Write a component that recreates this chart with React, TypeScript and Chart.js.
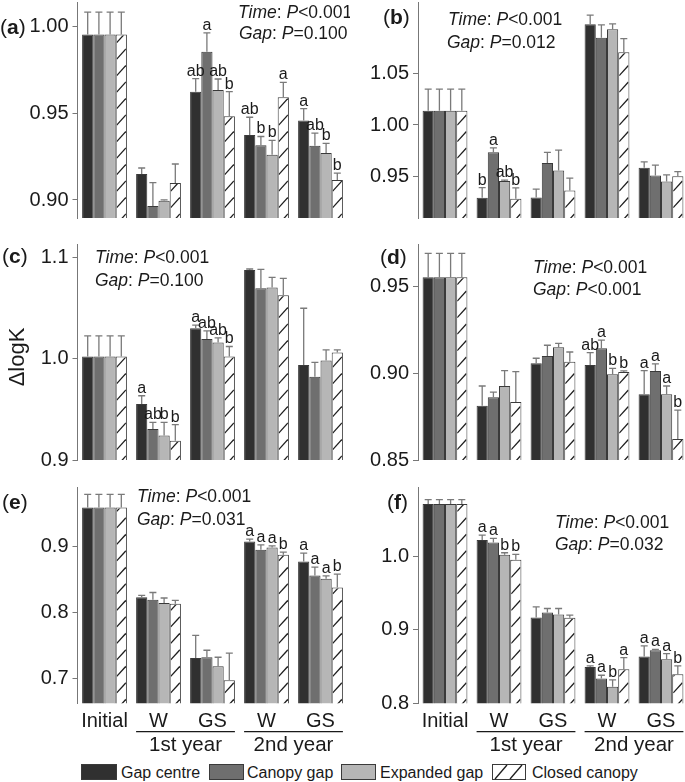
import React, { useEffect, useRef } from "react";
import { Chart, registerables } from "chart.js";
Chart.register(...registerables);

const FONT = "'Liberation Sans', Arial, Helvetica, sans-serif";
const TEXT = "#1a1a1a";

const categories = ["Initial", "W", "GS", "W", "GS"];
const seriesNames = ["Gap centre", "Canopy gap", "Expanded gap", "Closed canopy"];
const yearLabels = ["1st year", "2nd year"];
const yTitle = "ΔlogK";

// ---- Panel (a)
const aMeans = [
  [0.9956, 0.915, 0.9626, 0.9376, 0.9459],
  [0.9956, 0.8965, 0.9856, 0.9317, 0.9313],
  [0.9956, 0.8996, 0.9635, 0.9261, 0.9271],
  [0.9956, 0.9098, 0.9484, 0.9593, 0.9115],
];
const aErrors = [
  [0.013, 0.0035, 0.0075, 0.0102, 0.0069],
  [0.013, 0.0135, 0.011, 0.005, 0.0073],
  [0.013, 0.0005, 0.0064, 0.0083, 0.0056],
  [0.013, 0.011, 0.0142, 0.0087, 0.004],
];
const aLetters = [
  ["", "", "ab", "ab", "a"],
  ["", "", "a", "b", "ab"],
  ["", "", "ab", "b", "b"],
  ["", "", "b", "a", "b"],
];
const aTicks = [0.9, 0.95, 1.0];
const aTickLabels = ["0.90", "0.95", "1.00"];
const aRange = [0.8896, 1.0144];
const aStats = ["<0.001", "=0.100"];

// ---- Panel (b)
const bMeans = [
  [1.0139, 0.9294, 0.9297, 1.0977, 0.9584],
  [1.0139, 0.9735, 0.9632, 1.0848, 0.951],
  [1.0139, 0.9455, 0.9558, 1.0929, 0.9452],
  [1.0139, 0.9284, 0.9365, 1.0706, 0.9503],
];
const bErrors = [
  [0.021, 0.0097, 0.008, 0.009, 0.0058],
  [0.021, 0.0042, 0.0103, 0.0123, 0.01],
  [0.021, 0.001, 0.0197, 0.0052, 0.0064],
  [0.021, 0.0106, 0.0119, 0.0133, 0.0045],
];
const bLetters = [
  ["", "b", "", "", ""],
  ["", "a", "", "", ""],
  ["", "ab", "", "", ""],
  ["", "b", "", "", ""],
];
const bTicks = [0.95, 1.0, 1.05];
const bTickLabels = ["0.95", "1.00", "1.05"];
const bRange = [0.9097, 1.1194];
const bStats = ["<0.001", "=0.012"];

// ---- Panel (c)
const cMeans = [
  [1.0023, 0.9553, 1.0303, 1.0878, 0.9938],
  [1.0023, 0.9306, 1.0197, 1.0697, 0.9822],
  [1.0023, 0.9243, 1.0161, 1.0704, 0.9984],
  [1.0023, 0.9191, 1.0023, 1.0628, 1.0063],
];
const cErrors = [
  [0.0204, 0.0082, 0.003, 0.001, 0.0562],
  [0.0204, 0.0066, 0.0079, 0.0188, 0.0142],
  [0.0204, 0.0129, 0.0046, 0.0102, 0.0105],
  [0.0204, 0.0158, 0.0099, 0.0168, 0.0026],
];
const cLetters = [
  ["", "a", "a", "", ""],
  ["", "ab", "ab", "", ""],
  ["", "b", "ab", "", ""],
  ["", "b", "b", "", ""],
];
const cTicks = [0.9, 1.0, 1.1];
const cTickLabels = ["0.9", "1.0", "1.1"];
const cRange = [0.9, 1.1135];
const cStats = ["<0.001", "=0.100"];

// ---- Panel (d)
const dMeans = [
  [0.9554, 0.8813, 0.9058, 0.9048, 0.8879],
  [0.9554, 0.8862, 0.91, 0.9144, 0.9013],
  [0.9554, 0.8927, 0.915, 0.8994, 0.8879],
  [0.9554, 0.8835, 0.9067, 0.9008, 0.8621],
];
const dErrors = [
  [0.0138, 0.0114, 0.0029, 0.0071, 0.0136],
  [0.0138, 0.003, 0.0062, 0.0048, 0.0041],
  [0.0138, 0.0088, 0.0023, 0.0035, 0.0048],
  [0.0138, 0.0175, 0.0056, 0.0006, 0.0167],
];
const dLetters = [
  ["", "", "", "ab", "a"],
  ["", "", "", "a", "a"],
  ["", "", "", "b", "a"],
  ["", "", "", "b", "b"],
];
const dTicks = [0.85, 0.9, 0.95];
const dTickLabels = ["0.85", "0.90", "0.95"];
const dRange = [0.85, 0.9746];
const dStats = ["<0.001", "<0.001"];

// ---- Panel (e)
const eMeans = [
  [0.9587, 0.8227, 0.731, 0.9073, 0.8771],
  [0.9587, 0.8191, 0.732, 0.8947, 0.8559],
  [0.9587, 0.8141, 0.7184, 0.8982, 0.8509],
  [0.9587, 0.8131, 0.6972, 0.8872, 0.8378],
];
const eErrors = [
  [0.02, 0.003, 0.034, 0.0035, 0.0126],
  [0.02, 0.011, 0.0106, 0.0076, 0.0126],
  [0.02, 0.0076, 0.0136, 0.0026, 0.0045],
  [0.02, 0.005, 0.041, 0.004, 0.0201],
];
const eLetters = [
  ["", "", "", "a", "a"],
  ["", "", "", "a", "a"],
  ["", "", "", "a", "a"],
  ["", "", "", "b", "b"],
];
const eTicks = [0.7, 0.8, 0.9];
const eTickLabels = ["0.7", "0.8", "0.9"];
const eRange = [0.6622, 0.9899];
const eStats = ["<0.001", "=0.031"];

// ---- Panel (f)
const fMeans = [
  [1.0714, 1.0223, 0.9168, 0.8495, 0.8636],
  [1.0714, 1.0191, 0.9236, 0.8336, 0.8723],
  [1.0714, 1.0023, 0.9209, 0.8227, 0.86],
  [1.0714, 0.9955, 0.9164, 0.8464, 0.8395],
];
const fErrors = [
  [0.006, 0.0068, 0.0146, 0.0014, 0.0146],
  [0.006, 0.0054, 0.0055, 0.0046, 0.001],
  [0.006, 0.0027, 0.0082, 0.0091, 0.0077],
  [0.006, 0.0072, 0.0036, 0.0159, 0.0114],
];
const fLetters = [
  ["", "a", "", "a", "a"],
  ["", "a", "", "a", "a"],
  ["", "b", "", "b", "a"],
  ["", "b", "", "a", "b"],
];
const fTicks = [0.8, 0.9, 1.0];
const fTickLabels = ["0.8", "0.9", "1.0"];
const fRange = [0.8, 1.0945];
const fStats = ["<0.001", "=0.032"];

const COLORS = ["#303030", "#6f6f6f", "#b6b6b6", "#ffffff"];
const CAT_PCT = 0.83;

type Spec = {
  id: string;
  means: number[][];
  errors: number[][];
  letters: string[][];
  ticks: number[];
  tickLabels: string[];
  range: number[];
  stats: string[];
  left: number;
  top: number;
  width: number;
  height: number;
  axisWidth: number;
  padTop: number;
  padRight: number;
  padBottom: number;
  showX: boolean;
  xHeight: number;
  labelPos: number[];
  timePos: number[];
  gapPos: number[];
  showTitle: boolean;
};

const LEFT_COL = { left: 0, width: 350, axisWidth: 77.5, padRight: 2.5 };
const RIGHT_COL = { left: 340, width: 360, axisWidth: 78, padRight: 12 };
const ROW1 = { top: 0, height: 225, padTop: 2, padBottom: 7, showX: false, xHeight: 0 };
const ROW2 = { top: 230, height: 250, padTop: 14, padBottom: 20, showX: false, xHeight: 0 };
const ROW3 = { top: 470, height: 290, padTop: 17, padBottom: 0, showX: true, xHeight: 56.7 };

const panels: Spec[] = [
  { id: "a", means: aMeans, errors: aErrors, letters: aLetters, ticks: aTicks, tickLabels: aTickLabels, range: aRange, stats: aStats,
    ...LEFT_COL, ...ROW1, labelPos: [0, 28], timePos: [238, 13], gapPos: [239, 34], showTitle: false },
  { id: "b", means: bMeans, errors: bErrors, letters: bLetters, ticks: bTicks, tickLabels: bTickLabels, range: bRange, stats: bStats,
    ...RIGHT_COL, ...ROW1, labelPos: [383, 18], timePos: [448, 20], gapPos: [447, 43], showTitle: false },
  { id: "c", means: cMeans, errors: cErrors, letters: cLetters, ticks: cTicks, tickLabels: cTickLabels, range: cRange, stats: cStats,
    ...LEFT_COL, ...ROW2, labelPos: [2, 257], timePos: [95, 258], gapPos: [95, 281], showTitle: true },
  { id: "d", means: dMeans, errors: dErrors, letters: dLetters, ticks: dTicks, tickLabels: dTickLabels, range: dRange, stats: dStats,
    ...RIGHT_COL, ...ROW2, labelPos: [380, 258], timePos: [533, 268], gapPos: [533, 290], showTitle: false },
  { id: "e", means: eMeans, errors: eErrors, letters: eLetters, ticks: eTicks, tickLabels: eTickLabels, range: eRange, stats: eStats,
    ...LEFT_COL, ...ROW3, labelPos: [2, 503], timePos: [137, 497], gapPos: [137, 520], showTitle: false },
  { id: "f", means: fMeans, errors: fErrors, letters: fLetters, ticks: fTicks, tickLabels: fTickLabels, range: fRange, stats: fStats,
    ...RIGHT_COL, ...ROW3, labelPos: [387, 503], timePos: [555, 523], gapPos: [555, 545], showTitle: false },
];

function drawRich(ctx: CanvasRenderingContext2D, parts: [string, string][], x: number, y: number, size: number) {
  let cx = x;
  ctx.textAlign = "left";
  ctx.textBaseline = "middle";
  ctx.fillStyle = TEXT;
  for (const [t, style] of parts) {
    ctx.font = `${style ? style + " " : ""}${size}px ${FONT}`;
    ctx.fillText(t, cx, y);
    cx += ctx.measureText(t).width;
  }
}

function buildConfig(spec: Spec): any {
  const ox = spec.left;
  const oy = spec.top;
  const overlay = {
    id: "overlay" + spec.id,
    afterDatasetsDraw(chart: any) {
      const ctx: CanvasRenderingContext2D = chart.ctx;
      const ys = chart.scales.y;
      const area = chart.chartArea;
      // hatching on closed canopy bars
      const meta3 = chart.getDatasetMeta(3);
      meta3.data.forEach((el: any) => {
        const p = el.getProps(["x", "y", "base", "width"], true);
        const l = p.x - p.width / 2 + 1;
        const r = p.x + p.width / 2 - 1;
        const t = p.y + 1;
        const b = Math.min(p.base, area.bottom);
        if (b - t <= 0) return;
        ctx.save();
        ctx.beginPath();
        ctx.rect(l, t, r - l, b - t);
        ctx.clip();
        ctx.strokeStyle = "#1e1e1e";
        ctx.lineWidth = 1.3;
        const w = r - l;
        const rise = w * 1.1;
        for (let yy = b + rise - 4; yy > t - 2; yy -= 16.5) {
          ctx.beginPath();
          ctx.moveTo(l, yy);
          ctx.lineTo(r, yy - rise);
          ctx.stroke();
        }
        ctx.restore();
      });
      // error bars and letters
      for (let d = 0; d < 4; d++) {
        const meta = chart.getDatasetMeta(d);
        meta.data.forEach((el: any, i: number) => {
          const p = el.getProps(["x", "y"], true);
          const top = ys.getPixelForValue(spec.means[d][i] + spec.errors[d][i]);
          ctx.save();
          ctx.strokeStyle = "#7a7a7a";
          ctx.lineWidth = 1.3;
          ctx.beginPath();
          ctx.moveTo(p.x, p.y);
          ctx.lineTo(p.x, top);
          ctx.moveTo(p.x - 3.5, top);
          ctx.lineTo(p.x + 3.5, top);
          ctx.stroke();
          const letter = spec.letters[d][i];
          if (letter) {
            ctx.fillStyle = TEXT;
            ctx.font = `16px ${FONT}`;
            ctx.textAlign = "center";
            ctx.textBaseline = "alphabetic";
            ctx.fillText(letter, p.x, top - 3);
          }
          ctx.restore();
        });
      }
    },
    afterDraw(chart: any) {
      const ctx: CanvasRenderingContext2D = chart.ctx;
      ctx.save();
      // panel label
      drawRich(ctx, [["(", ""], [spec.id, "bold"], [")", ""]], spec.labelPos[0] - ox, spec.labelPos[1] - oy, 21);
      // statistics
      drawRich(ctx, [["Time", "italic"], [": ", ""], ["P", "italic"], [spec.stats[0], ""]], spec.timePos[0] - ox, spec.timePos[1] - oy, 17.5);
      drawRich(ctx, [["Gap", "italic"], [": ", ""], ["P", "italic"], [spec.stats[1], ""]], spec.gapPos[0] - ox, spec.gapPos[1] - oy, 17.5);
      if (spec.showTitle) {
        ctx.save();
        ctx.translate(18 - ox, 357 - oy);
        ctx.rotate(-Math.PI / 2);
        ctx.font = `22px ${FONT}`;
        ctx.fillStyle = TEXT;
        ctx.textAlign = "center";
        ctx.textBaseline = "middle";
        ctx.fillText(yTitle, 0, 0);
        ctx.restore();
      }
      if (spec.showX) {
        const xs = chart.scales.x;
        const catW = xs.getPixelForValue(1) - xs.getPixelForValue(0);
        const half = (catW * CAT_PCT) / 2;
        const groups = [[1, 2], [3, 4]];
        groups.forEach((g, k) => {
          const x1 = xs.getPixelForValue(g[0]) - half;
          const x2 = xs.getPixelForValue(g[1]) + half;
          const ly = 731.7 - oy;
          ctx.strokeStyle = "#1a1a1a";
          ctx.lineWidth = 1.3;
          ctx.beginPath();
          ctx.moveTo(x1, ly);
          ctx.lineTo(x2, ly);
          ctx.stroke();
          ctx.font = `20.5px ${FONT}`;
          ctx.fillStyle = TEXT;
          ctx.textAlign = "center";
          ctx.textBaseline = "middle";
          ctx.fillText(yearLabels[k], (x1 + x2) / 2, 745 - oy);
        });
      }
      ctx.restore();
    },
  };

  const xScale: any = {
    display: spec.showX,
    grid: { display: false, drawTicks: false },
    border: { display: false },
    ticks: { font: { size: 20, family: FONT }, color: TEXT, padding: 6, maxRotation: 0, minRotation: 0, autoSkip: false },
  };
  if (spec.showX) {
    xScale.afterFit = (s: any) => {
      s.height = spec.xHeight;
      s.paddingLeft = 0;
      s.paddingRight = 0;
    };
  }

  return {
    type: "bar",
    data: {
      labels: categories,
      datasets: seriesNames.map((name, d) => ({
        label: name,
        data: spec.means[d],
        backgroundColor: COLORS[d],
        borderColor: "#3a3a3a",
        borderWidth: 1,
        borderSkipped: "bottom",
        categoryPercentage: CAT_PCT,
        barPercentage: 1,
      })),
    },
    options: {
      responsive: false,
      maintainAspectRatio: false,
      animation: false,
      layout: { padding: { top: spec.padTop, right: spec.padRight, bottom: spec.padBottom, left: 0 } },
      plugins: { legend: { display: false }, tooltip: { enabled: false } },
      scales: {
        x: xScale,
        y: {
          min: spec.range[0],
          max: spec.range[1],
          afterFit: (s: any) => {
            s.width = spec.axisWidth;
            s.paddingTop = 0;
            s.paddingBottom = 0;
          },
          afterBuildTicks: (s: any) => {
            s.ticks = spec.ticks.map((v) => ({ value: v }));
          },
          ticks: {
            font: { size: 20, family: FONT },
            color: TEXT,
            padding: 4,
            callback: (_v: any, i: number) => spec.tickLabels[i],
          },
          grid: { drawOnChartArea: false, drawTicks: true, tickLength: 5, color: "#777777", lineWidth: 1 },
          border: { display: true, color: "#777777", width: 1 },
        },
      },
    },
    plugins: [overlay],
  };
}

function Panel({ spec }: { spec: Spec }) {
  const ref = useRef<HTMLCanvasElement>(null);
  useEffect(() => {
    const chart = new Chart(ref.current as HTMLCanvasElement, buildConfig(spec));
    return () => chart.destroy();
  }, [spec]);
  return (
    <canvas
      ref={ref}
      width={spec.width}
      height={spec.height}
      style={{ position: "absolute", left: spec.left, top: spec.top, width: spec.width, height: spec.height }}
    />
  );
}

function Legend() {
  const items = [
    { box: 81, w: 35, text: 121 },
    { box: 209, w: 34, text: 247 },
    { box: 341, w: 34, text: 380 },
    { box: 492, w: 33, text: 532 },
  ];
  return (
    <svg width={685} height={24} style={{ position: "absolute", left: 0, top: 760 }}>
      {items.map((it, d) => (
        <g key={d}>
          <rect x={it.box + 0.5} y={4.5} width={it.w} height={15} fill={COLORS[d]} stroke="#3a3a3a" strokeWidth={1} />
          {d === 3 && (
            <g stroke="#1e1e1e" strokeWidth={1.3}>
              <line x1={it.box + 3} y1={19} x2={it.box + 15} y2={5} />
              <line x1={it.box + 18} y1={19} x2={it.box + 30} y2={5} />
            </g>
          )}
          <text x={it.text} y={17.5} fontSize={16} fontFamily={FONT} fill={TEXT}>
            {seriesNames[d]}
          </text>
        </g>
      ))}
    </svg>
  );
}

export default function App() {
  return (
    <div
      style={{ position: "absolute", left: 0, top: 0, width: 685, height: 782, overflow: "hidden", background: "#ffffff", fontFamily: FONT }}
    >
      {panels.map((p) => (
        <Panel key={p.id} spec={p} />
      ))}
      <Legend />
    </div>
  );
}
